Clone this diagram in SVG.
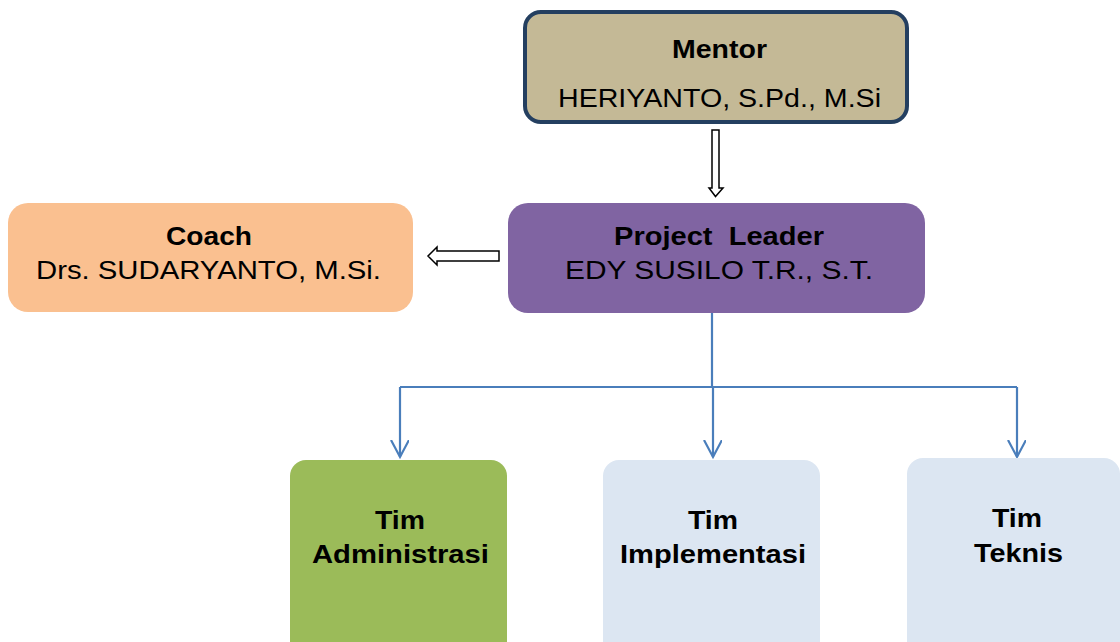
<svg xmlns="http://www.w3.org/2000/svg" width="1120" height="642" viewBox="0 0 1120 642">
<defs>
<style>
text{font-family:"Liberation Sans",Arial,sans-serif;font-size:26px;fill:#000;text-anchor:middle}
.b{font-weight:bold}
.conn{fill:none;stroke:#4a7ebb;stroke-width:2.2}
.hollow{fill:#fff;stroke:#000;stroke-width:1.5;stroke-linejoin:miter}
</style>
<marker id="vee" markerWidth="20" markerHeight="20" refX="17" refY="9" orient="auto" markerUnits="userSpaceOnUse">
<path d="M0,0 L17,9 L0,18" fill="none" stroke="#4a7ebb" stroke-width="2.2"/>
</marker>
</defs>
<rect width="1120" height="642" fill="#fff"/>
<g id="connectors">
<polygon class="hollow" points="712,130 719,130 719,188 723,188 715.5,196.5 709,188 712,188"/>
<polygon class="hollow" points="499,251 499,261 437,261 437,265 428,256 437,247 437,251"/>
<path class="conn" d="M712,312 V387"/>
<path class="conn" d="M400,387 H1017"/>
<path class="conn" d="M400,387 V457" marker-end="url(#vee)"/>
<path class="conn" d="M713,387 V457" marker-end="url(#vee)"/>
<path class="conn" d="M1017,387 V457" marker-end="url(#vee)"/>
</g>
<g id="mentor">
<rect x="525" y="12" width="382" height="110" rx="16" fill="#c4b996" stroke="#243f60" stroke-width="4"/>
<text class="b" x="719.5" y="58" textLength="95" lengthAdjust="spacingAndGlyphs">Mentor</text>
<text x="719.5" y="107" textLength="323" lengthAdjust="spacingAndGlyphs">HERIYANTO, S.Pd., M.Si</text>
</g>
<g id="coach">
<rect x="8" y="203" width="405" height="109" rx="20" fill="#fac090"/>
<text class="b" x="209" y="245" textLength="86" lengthAdjust="spacingAndGlyphs">Coach</text>
<text x="208.5" y="279" textLength="345" lengthAdjust="spacingAndGlyphs">Drs. SUDARYANTO, M.Si.</text>
</g>
<g id="project-leader">
<rect x="508" y="203" width="417" height="110" rx="20" fill="#8064a2"/>
<text class="b" x="719" y="245" textLength="210" lengthAdjust="spacingAndGlyphs" xml:space="preserve">Project  Leader</text>
<text x="719" y="279" textLength="308" lengthAdjust="spacingAndGlyphs">EDY SUSILO T.R., S.T.</text>
</g>
<g id="tim-administrasi">
<rect x="290" y="460" width="217" height="220" rx="16" fill="#9bbb59"/>
<text class="b" x="400" y="529" textLength="50" lengthAdjust="spacingAndGlyphs">Tim</text>
<text class="b" x="400.5" y="563" textLength="177" lengthAdjust="spacingAndGlyphs">Administrasi</text>
</g>
<g id="tim-implementasi">
<rect x="603" y="460" width="217" height="220" rx="16" fill="#dce6f2"/>
<text class="b" x="713" y="529" textLength="50" lengthAdjust="spacingAndGlyphs">Tim</text>
<text class="b" x="713" y="563" textLength="186" lengthAdjust="spacingAndGlyphs">Implementasi</text>
</g>
<g id="tim-teknis">
<rect x="907" y="458" width="213" height="220" rx="16" fill="#dce6f2"/>
<text class="b" x="1017" y="527" textLength="50" lengthAdjust="spacingAndGlyphs">Tim</text>
<text class="b" x="1018.5" y="562" textLength="89" lengthAdjust="spacingAndGlyphs">Teknis</text>
</g>
</svg>
